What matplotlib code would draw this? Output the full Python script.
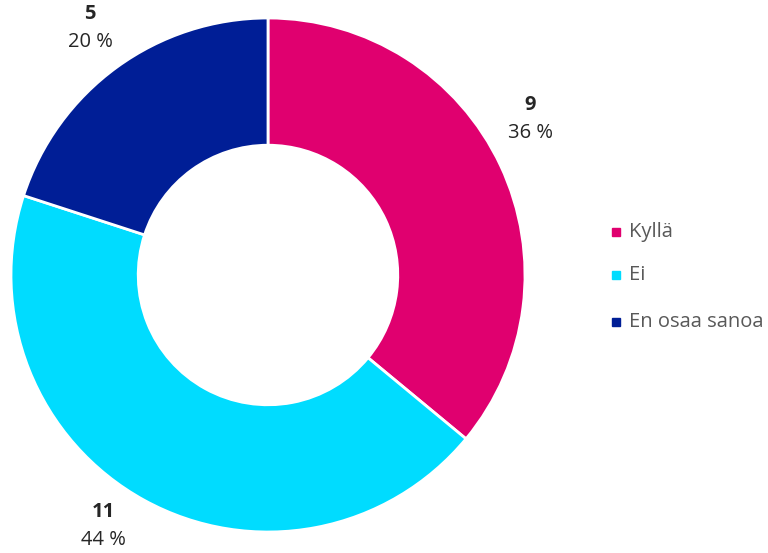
import matplotlib
matplotlib.use("Agg")
import matplotlib.pyplot as plt
from matplotlib.patches import Rectangle

categories = ["Kyllä", "Ei", "En osaa sanoa"]
counts = [9, 11, 5]
percents = [36, 44, 20]
colors = ["#E0006F", "#00DCFF", "#001E96"]

plt.rcParams["font.family"] = ["Open Sans", "DejaVu Sans"]

W, H = 768, 553
fig = plt.figure(figsize=(W / 100, H / 100), dpi=100)

# donut centre and outer radius in pixels
cx, cy, r = 268, 275, 257
ax = fig.add_axes([(cx - r) / W, (H - cy - r) / H, 2 * r / W, 2 * r / H])

ax.pie(counts, colors=colors, startangle=90, counterclock=False, radius=1,
       wedgeprops=dict(width=0.495, edgecolor="white", linewidth=2))
ax.set_xlim(-1, 1)
ax.set_ylim(-1, 1)
ax.axis("off")

# data labels, placed in figure pixel coords
label_pos = [(530, 105), (103, 512), (90, 14)]
for (x, y), n, p in zip(label_pos, counts, percents):
    fig.text(x / W, 1 - y / H, str(n), ha="center", va="center",
             fontsize=14.5, fontweight="bold", color="#262626")
    fig.text(x / W, 1 - (y + 28) / H, f"{p} %", ha="center", va="center",
             fontsize=14.5, color="#262626")

# legend
leg_y = [232, 275, 322]
for name, c, y in zip(categories, colors, leg_y):
    fig.add_artist(Rectangle((612 / W, 1 - (y + 4) / H), 8 / W, 8 / H,
                             transform=fig.transFigure, color=c))
    fig.text(629 / W, 1 - y / H, name, ha="left", va="center",
             fontsize=14.5, color="#595959")

fig.savefig("out.png", dpi=100)
